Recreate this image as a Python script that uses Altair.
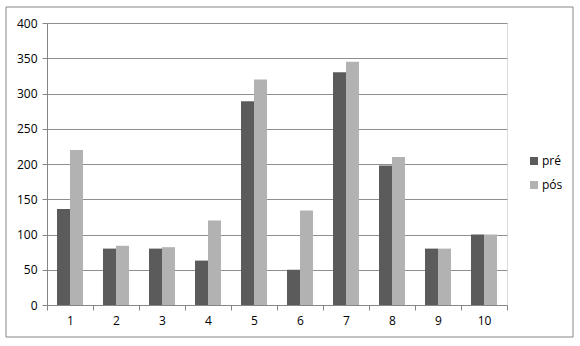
import altair as alt
import pandas as pd

categories = ["1", "2", "3", "4", "5", "6", "7", "8", "9", "10"]
series_names = ["pré", "pós"]
pre_values = [136, 80, 80, 63, 289, 50, 330, 198, 80, 100]
pos_values = [220, 84, 82, 120, 320, 134, 345, 210, 80, 100]
y_ticks = [0, 50, 100, 150, 200, 250, 300, 350, 400]

rows = []
for c, a, b in zip(categories, pre_values, pos_values):
    rows.append({"cat": c, "serie": series_names[0], "valor": a})
    rows.append({"cat": c, "serie": series_names[1], "valor": b})
df = pd.DataFrame(rows)

FONT = "Open Sans"
W, H = 460, 282

bars = alt.Chart(df).mark_bar(size=13).encode(
    x=alt.X("cat:N", sort=categories, title=None,
            scale=alt.Scale(paddingInner=0, paddingOuter=0),
            axis=alt.Axis(labelAngle=0, tickBand="extent", domainColor="#868686",
                          tickColor="#868686", tickSize=5, labelPadding=5,
                          labelFont=FONT, labelFontSize=12, labelColor="#000000",
                          grid=False)),
    xOffset=alt.XOffset("serie:N", sort=series_names,
                        scale=alt.Scale(paddingInner=0, paddingOuter=0.77)),
    y=alt.Y("valor:Q", title=None,
            scale=alt.Scale(domain=[0, 400], nice=False),
            axis=alt.Axis(values=y_ticks, domainColor="#868686", tickColor="#868686",
                          tickSize=5, labelPadding=5, gridColor="#8f8f8f", gridWidth=1,
                          labelFont=FONT, labelFontSize=12, labelColor="#000000")),
    color=alt.Color("serie:N", sort=series_names,
                    scale=alt.Scale(domain=series_names, range=["#5b5b5b", "#b2b2b2"]),
                    legend=alt.Legend(title=None, orient="none", legendX=481, legendY=132,
                                      symbolType="square", symbolSize=64,
                                      symbolStrokeWidth=0, rowPadding=12,
                                      labelFont=FONT, labelFontSize=12,
                                      labelColor="#000000", labelOffset=2)),
)

frame = alt.Chart(pd.DataFrame({"a": [0]})).mark_rect(
    fill=None, stroke="#868686", strokeWidth=1
).encode(
    x=alt.value(-41), x2=alt.value(526), y=alt.value(-16), y2=alt.value(314)
)

chart = alt.layer(frame, bars).properties(
    width=W, height=H,
    autosize=alt.AutoSizeParams(type="none"),
    padding={"left": 47, "top": 23, "right": 73, "bottom": 41},
).configure_view(stroke=None).configure(background="white")

chart.save("out.html", embed_options={"renderer": "svg", "actions": False})
